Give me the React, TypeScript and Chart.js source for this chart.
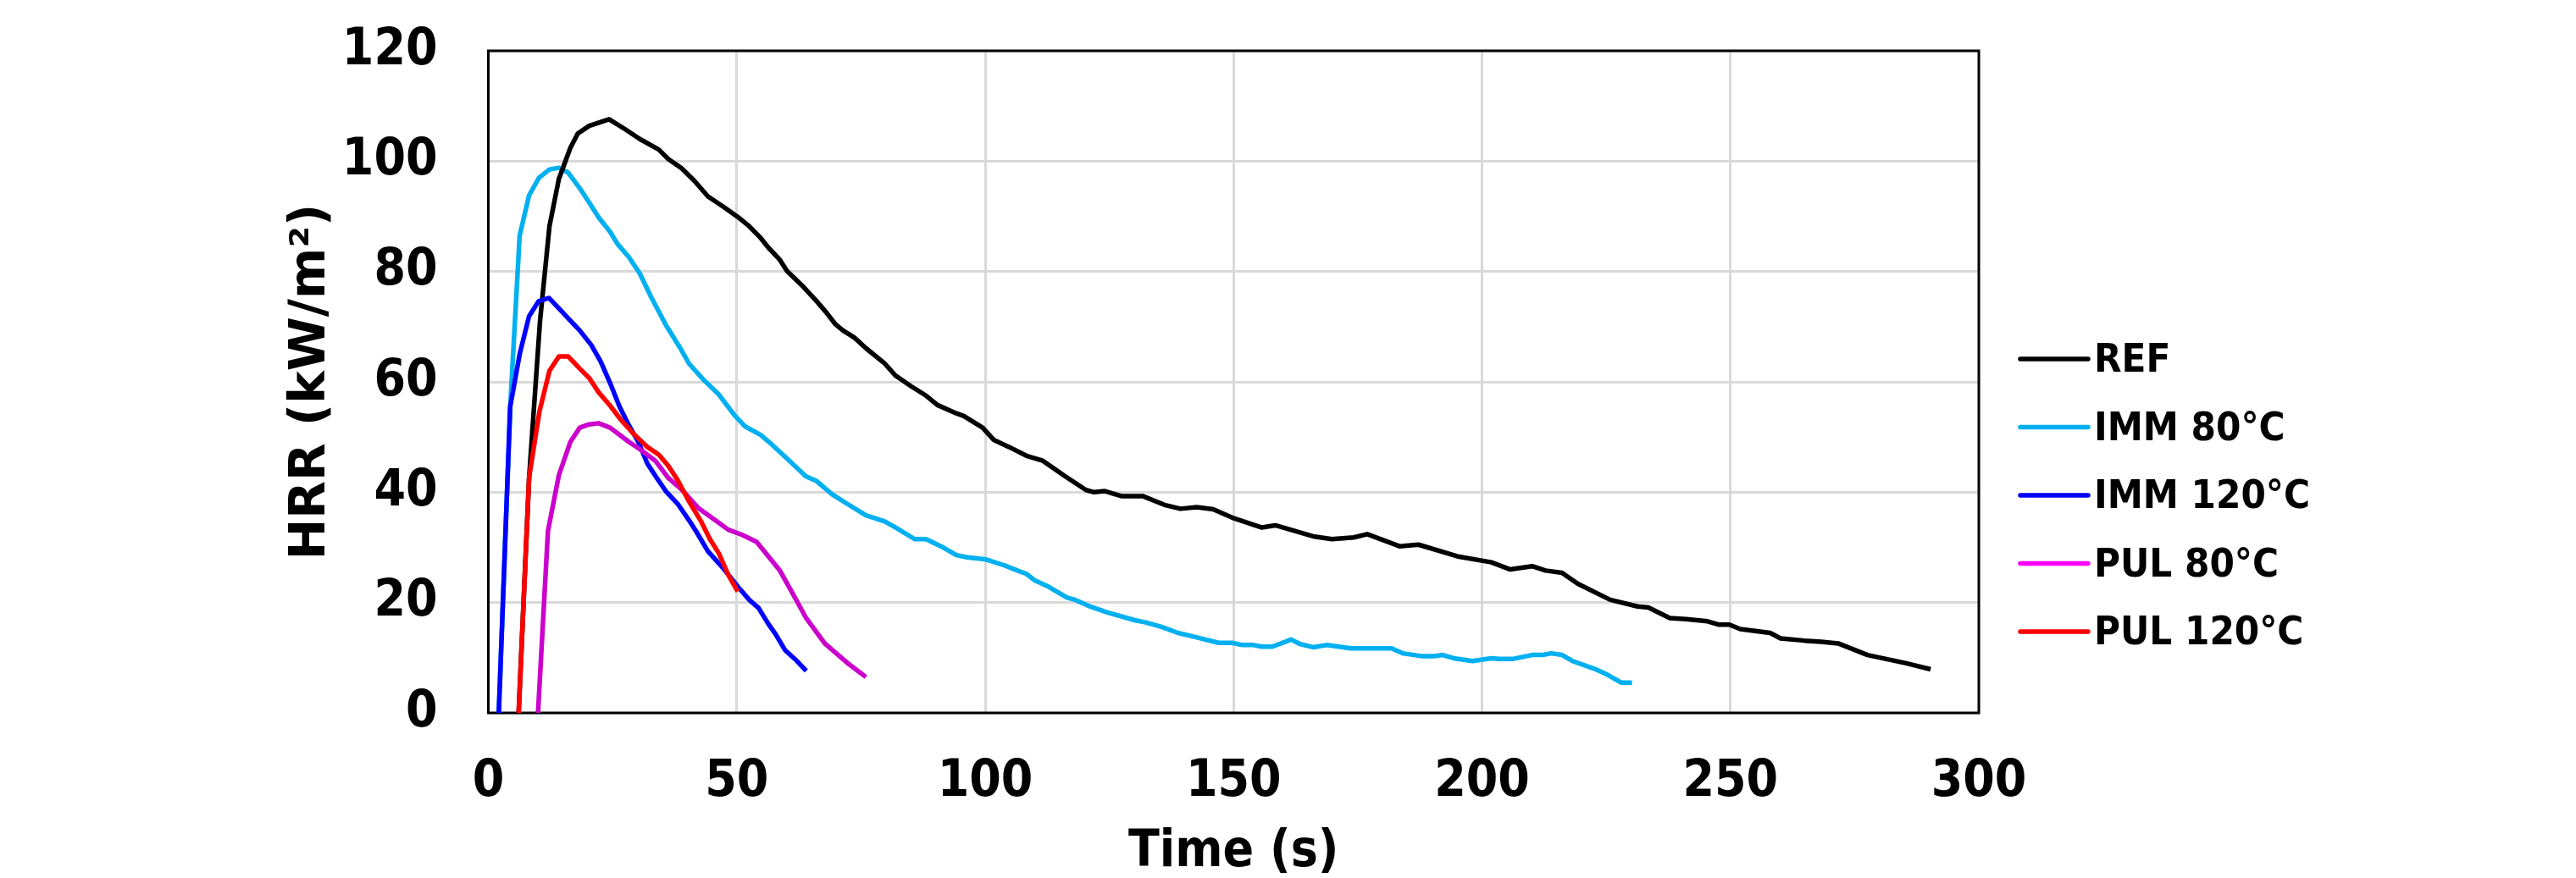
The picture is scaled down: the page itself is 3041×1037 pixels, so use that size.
import React, { useEffect, useRef } from "react";
import { Chart, registerables } from "chart.js";

Chart.register(...registerables);

// ---------- data ----------
const seriesNames = ["REF", "IMM 80°C", "IMM 120°C", "PUL 80°C", "PUL 120°C"];

const refTime = [6.1, 8.2, 10.4, 12.3, 14.2, 16.5, 18.0, 20.3, 24.3, 27.5, 30.5, 34.3, 36.2, 38.9, 41.5, 44.2, 47.2, 50.2, 52.5, 54.8, 56.3, 58.6, 60.1, 63.1, 66.1, 68.0, 69.9, 71.4, 73.7, 76.0, 79.8, 82.0, 85.1, 88.1, 90.4, 94.2, 95.7, 99.5, 101.7, 104.8, 108.3, 111.6, 115.9, 120.3, 121.9, 124.1, 127.4, 131.7, 136.1, 139.3, 142.6, 145.9, 149.7, 155.7, 158.4, 166.0, 169.8, 174.2, 176.9, 183.4, 187.2, 195.4, 201.9, 205.7, 210.1, 212.8, 216.1, 219.3, 225.8, 231.3, 233.5, 237.8, 241.1, 245.4, 247.6, 249.8, 252.0, 258.0, 260.1, 264.9, 268.3, 271.7, 277.6, 285.4, 290.3];
const refHRR = [0, 42.6, 71.0, 88.2, 96.8, 102.4, 105.0, 106.4, 107.6, 105.8, 104.0, 102.1, 100.4, 98.7, 96.4, 93.6, 91.8, 89.9, 88.2, 86.1, 84.4, 82.2, 80.1, 77.5, 74.6, 72.6, 70.4, 69.3, 68.0, 66.1, 63.3, 61.1, 59.2, 57.5, 55.8, 54.3, 53.8, 51.7, 49.5, 48.2, 46.6, 45.7, 43.0, 40.4, 40.0, 40.2, 39.3, 39.3, 37.7, 37.0, 37.3, 36.9, 35.4, 33.6, 34.0, 32.0, 31.5, 31.8, 32.4, 30.2, 30.5, 28.3, 27.3, 26.0, 26.6, 25.8, 25.4, 23.4, 20.5, 19.3, 19.1, 17.2, 17.0, 16.6, 16.0, 16.0, 15.2, 14.5, 13.5, 13.1, 12.9, 12.6, 10.5, 9.0, 7.9];

const imm80Time = [2.1, 4.4, 6.3, 8.2, 10.2, 12.3, 14.2, 16.1, 18.4, 20.3, 22.2, 24.5, 26.0, 28.3, 30.5, 32.8, 35.8, 38.5, 40.4, 43.4, 46.4, 49.5, 51.7, 54.8, 57.0, 60.1, 63.9, 66.1, 69.2, 72.2, 76.0, 79.8, 82.0, 85.8, 88.1, 91.1, 94.2, 96.4, 100.2, 104.0, 106.5, 108.3, 110.0, 112.7, 116.5, 118.1, 120.8, 124.6, 130.1, 132.3, 135.5, 138.8, 142.1, 147.0, 149.7, 151.8, 154.0, 155.7, 157.8, 161.6, 163.3, 166.0, 168.7, 173.6, 181.8, 184.0, 187.8, 190.5, 192.1, 194.3, 198.1, 201.9, 203.5, 206.3, 210.1, 212.2, 213.9, 216.1, 218.2, 222.6, 225.3, 228.0, 230.2];
const imm80HRR = [0, 55.5, 86.5, 93.8, 97.0, 98.5, 98.8, 97.9, 95.1, 92.5, 89.8, 87.2, 85.0, 82.6, 79.6, 75.3, 70.2, 66.3, 63.3, 60.3, 57.7, 54.0, 51.9, 50.4, 48.7, 46.1, 42.9, 42.0, 39.6, 37.9, 35.8, 34.7, 33.6, 31.5, 31.5, 30.2, 28.6, 28.2, 27.8, 26.7, 25.8, 25.2, 24.0, 22.9, 20.9, 20.5, 19.4, 18.2, 16.8, 16.4, 15.6, 14.5, 13.8, 12.7, 12.7, 12.3, 12.3, 12.0, 12.0, 13.3, 12.5, 11.9, 12.3, 11.7, 11.7, 10.8, 10.3, 10.3, 10.5, 9.9, 9.4, 9.9, 9.8, 9.8, 10.5, 10.5, 10.8, 10.5, 9.4, 8.0, 6.9, 5.5, 5.5];

const imm120Time = [2.1, 4.4, 6.3, 8.2, 10.1, 12.2, 13.9, 16.1, 18.4, 20.7, 22.6, 24.5, 26.4, 28.3, 30.2, 32.0, 33.9, 35.8, 38.1, 40.4, 41.9, 44.2, 47.2, 50.2, 52.5, 54.4, 56.3, 57.8, 59.7, 62.0, 64.0];
const imm120HRR = [0, 55.5, 65.0, 71.9, 74.6, 75.2, 73.6, 71.5, 69.3, 66.7, 63.7, 59.8, 55.5, 52.1, 49.1, 45.2, 42.6, 40.1, 37.9, 34.9, 32.8, 29.3, 26.3, 22.9, 20.5, 19.0, 16.2, 14.3, 11.4, 9.5, 7.6];

const pul80Time = [10.0, 12.0, 14.2, 16.5, 18.4, 20.3, 22.2, 24.5, 26.4, 28.3, 30.5, 33.6, 36.2, 38.9, 42.3, 45.7, 48.3, 51.0, 54.0, 55.9, 58.6, 60.8, 63.9, 67.7, 72.2, 76.0];
const pul80HRR = [0, 33.0, 43.1, 49.1, 51.7, 52.3, 52.5, 51.7, 50.4, 49.1, 47.8, 45.7, 42.6, 40.5, 37.1, 34.9, 33.2, 32.3, 31.0, 28.9, 25.9, 22.4, 17.3, 12.6, 9.1, 6.5];

const pul120Time = [6.1, 8.2, 10.3, 12.3, 14.2, 16.1, 18.4, 20.3, 22.2, 24.5, 26.7, 29.0, 32.0, 34.3, 36.2, 38.1, 40.4, 42.7, 44.6, 46.4, 48.3, 50.2];
const pul120HRR = [0, 42.6, 54.7, 62.0, 64.6, 64.6, 62.4, 60.7, 58.1, 55.7, 53.1, 50.8, 48.2, 46.8, 44.8, 42.2, 38.3, 34.9, 31.5, 28.9, 25.0, 22.0];

const xTitle = "Time (s)";
const yTitle = "HRR (kW/m²)";

const lineColors = ["#000000", "#00B0F0", "#0000FF", "#CC00CC", "#FF0000"];
const legendColors = ["#000000", "#00B0F0", "#0000FF", "#FF00FF", "#FF0000"];
const drawOrder = [3, 4, 2, 1, 0];

// ---------- layout ----------
const W = 3041;
const H = 1037;
const FONT = "'DejaVu Sans Condensed', 'DejaVu Sans', sans-serif";
const PLOT_LEFT = 576.5;
const PLOT_RIGHT = 2336;
const PLOT_TOP = 60;
const PLOT_BOTTOM = 842;

export default function App() {
  const ref = useRef<HTMLCanvasElement>(null);

  useEffect(() => {
    const canvas = ref.current;
    if (!canvas) return;
    const times = [refTime, imm80Time, imm120Time, pul80Time, pul120Time];
    const values = [refHRR, imm80HRR, imm120HRR, pul80HRR, pul120HRR];

    const framePlugin = {
      id: "frame",
      beforeDatasetsDraw(chart: any) {
        const { ctx, chartArea } = chart;
        ctx.save();
        ctx.strokeStyle = "#000";
        ctx.lineWidth = 3;
        ctx.strokeRect(chartArea.left, chartArea.top, chartArea.right - chartArea.left, chartArea.bottom - chartArea.top);
        ctx.restore();
      },
    };

    const legendPlugin = {
      id: "sideLegend",
      afterDraw(chart: any) {
        const { ctx } = chart;
        ctx.save();
        const x0 = 2385;
        const x1 = 2465;
        const tx = 2472;
        const y0 = 424;
        const dy = 80.5;
        seriesNames.forEach((name, i) => {
          const y = y0 + i * dy;
          ctx.strokeStyle = legendColors[i];
          ctx.lineWidth = 5.5;
          ctx.lineCap = "round";
          ctx.beginPath();
          ctx.moveTo(x0, y);
          ctx.lineTo(x1, y);
          ctx.stroke();
          ctx.fillStyle = "#000";
          ctx.font = `bold 47px ${FONT}`;
          ctx.textAlign = "left";
          ctx.textBaseline = "middle";
          ctx.fillText(name, tx, y + 3);
        });
        ctx.restore();
      },
    };

    const tickFont = { family: FONT, size: 60, weight: "bold" as const };

    const chart = new Chart(canvas, {
      type: "line",
      data: {
        datasets: seriesNames.map((name, i) => ({
          label: name,
          data: times[i].map((t, k) => ({ x: t, y: values[i][k] })),
          borderColor: lineColors[i],
          backgroundColor: lineColors[i],
          borderWidth: 5.5,
          pointRadius: 0,
          tension: 0,
          fill: false,
          order: drawOrder[i],
          borderJoinStyle: "round" as const,
          borderCapStyle: "butt" as const,
        })),
      },
      options: {
        responsive: false,
        animation: false,
        devicePixelRatio: 1,
        layout: { autoPadding: false, padding: { left: 0, right: W - PLOT_RIGHT, top: PLOT_TOP, bottom: 0 } },
        plugins: { legend: { display: false }, tooltip: { enabled: false } },
        scales: {
          x: {
            type: "linear",
            min: 0,
            max: 300,
            ticks: { stepSize: 50, color: "#000", font: tickFont, padding: 46, maxRotation: 0 },
            grid: { color: "#d9d9d9", lineWidth: 3, drawTicks: false },
            border: { display: false },
            title: {
              display: true,
              text: xTitle,
              color: "#000",
              font: { family: FONT, size: 60, weight: "bold", lineHeight: 1 },
              padding: { top: 0, bottom: 0 },
            },
            afterFit: (s: any) => {
              s.height = H - PLOT_BOTTOM;
              s.paddingLeft = 0;
              s.paddingRight = 0;
            },
          },
          y: {
            type: "linear",
            min: 0,
            max: 120,
            ticks: { stepSize: 20, color: "#000", font: tickFont, padding: 60 },
            grid: { color: "#d9d9d9", lineWidth: 3, drawTicks: false },
            border: { display: false },
            title: {
              display: true,
              text: yTitle,
              color: "#000",
              font: { family: "'DejaVu Sans', sans-serif", size: 58, weight: "bold", lineHeight: 1 },
              padding: { top: 339, bottom: 0 },
            },
            afterFit: (s: any) => {
              s.width = PLOT_LEFT;
              s.paddingTop = 0;
              s.paddingBottom = 0;
            },
          },
        },
      },
      plugins: [framePlugin, legendPlugin],
    } as any);

    return () => chart.destroy();
  }, []);

  return (
    <div style={{ position: "fixed", left: 0, top: 0, width: W, height: H, background: "#fff" }}>
      <canvas ref={ref} width={W} height={H} style={{ display: "block", width: W, height: H }} />
    </div>
  );
}
